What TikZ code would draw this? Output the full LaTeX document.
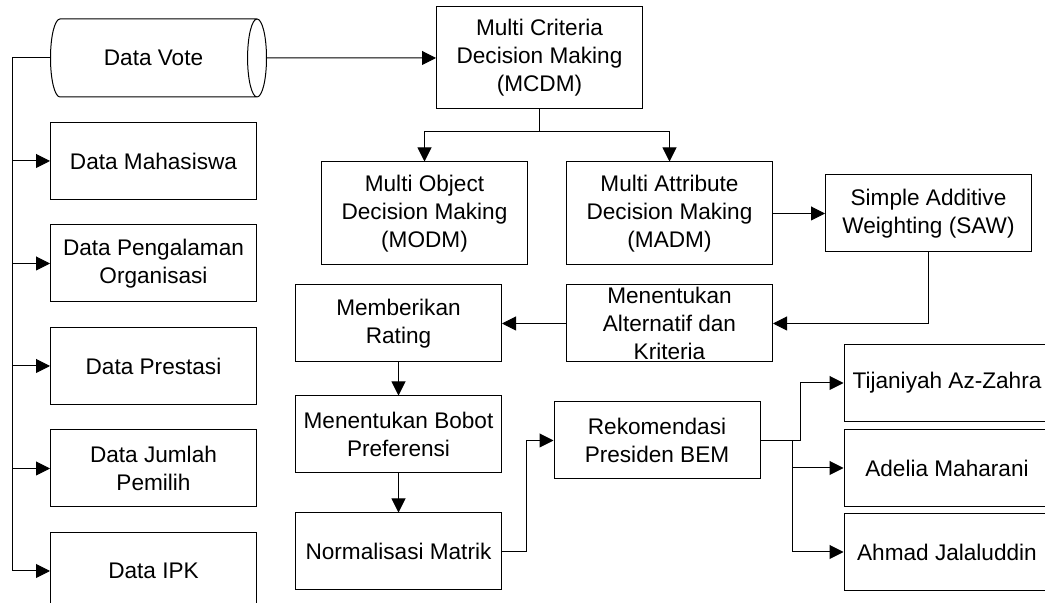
\documentclass[tikz,border=0pt]{standalone}
\usepackage{fontspec}
\setmainfont{Liberation Sans}
\usepackage{tikz}
\usetikzlibrary{arrows.meta,shapes.geometric}
\usetikzlibrary{positioning}
\tikzset{
    proc/.style = {draw, minimum width=103pt, minimum height=38.5pt,
                 align=center, inner sep=0pt},
    db/.style = {draw, cylinder, shape aspect=1.2, minimum width=39pt,
                 minimum height=108pt, inner sep=0pt},
}

\begin{document}
\begin{tikzpicture}[>={Triangle[length=7pt,width=7pt]}, line width=0.5pt,
    font=\fontsize{11.3pt}{14pt}\selectfont]
\useasboundingbox (0,0) rectangle (522.5pt,-301.5pt);
\node (vote) [db,anchor=west] at (25pt,-29pt) {Data Vote};
\node (mhs)  [proc,anchor=north west] at (25pt,-61pt) {Data Mahasiswa};
\node (org)  [proc,below=12.25pt of mhs] {Data Pengalaman\\Organisasi};
\node (pres) [proc,below=12.25pt of org] {Data Prestasi};
\node (jml)  [proc,below=12.25pt of pres] {Data Jumlah\\Pemilih};
\node (ipk)  [proc,below=12.25pt of jml] {Data IPK};
\node (mcdm) [proc,minimum height=51pt,anchor=west] at (218pt,-29pt) {Multi Criteria\\Decision Making\\(MCDM)};
\node (modm) [proc,minimum height=51.5pt,xshift=-57.5pt,below=26pt of mcdm] {Multi Object\\Decision Making\\(MODM)};
\node (madm) [proc,minimum height=51.5pt,right=19pt of modm] {Multi Attribute\\Decision Making\\(MADM)};
\node (saw)  [proc,right=26pt of madm] {Simple Additive\\Weighting (SAW)};
\node (alt)  [proc,below=9.5pt of madm] {Menentukan\\Alternatif dan\\Kriteria};
\node (rating) [proc,left=32pt of alt] {Memberikan\\Rating};
\node (bobot)  [proc,below=16.5pt of rating] {Menentukan Bobot\\Preferensi};
\node (norm)   [proc,below=19.5pt of bobot] {Normalisasi Matrik};
\node (rek)  [proc,xshift=-6.25pt,below=19.5pt of alt] {Rekomendasi\\Presiden BEM};
\node (tij)  [proc,yshift=28.75pt,right=41.5pt of rek] {Tijaniyah Az-Zahra};
\node (adel) [proc,below=3.5pt of tij] {Adelia Maharani};
\node (ahm)  [proc,below=3pt of adel] {Ahmad Jalaluddin};
% data masuk
\draw[->] (vote) to (mcdm);
\draw (vote.west) -- ++(-19pt,0) coordinate (trunk);
\draw[->] (trunk) |- (mhs);
\draw[->] (trunk) |- (org);
\draw[->] (trunk) |- (pres);
\draw[->] (trunk) |- (jml);
\draw[->] (trunk) |- (ipk);
% MCDM
\draw (mcdm.south) -- ++(0,-11pt) coordinate (split);
\draw[->] (split) -| (modm);
\draw[->] (split) -| (madm);
\draw[->] (madm) to (saw);
\draw[->] (saw.south) |- (alt);
\draw[->] (alt) to (rating);
\draw[->] (rating) to (bobot);
\draw[->] (bobot) to (norm);
\draw[->] (norm.east) -- ++(12pt,0) |- (rek);
% hasil
\draw[->] (rek.east) -- ++(20pt,0) |- (tij);
\draw[->] (rek.east) -- ++(16pt,0) |- (adel);
\draw[->] (rek.east) -- ++(16pt,0) |- (ahm);
\end{tikzpicture}
\end{document}
